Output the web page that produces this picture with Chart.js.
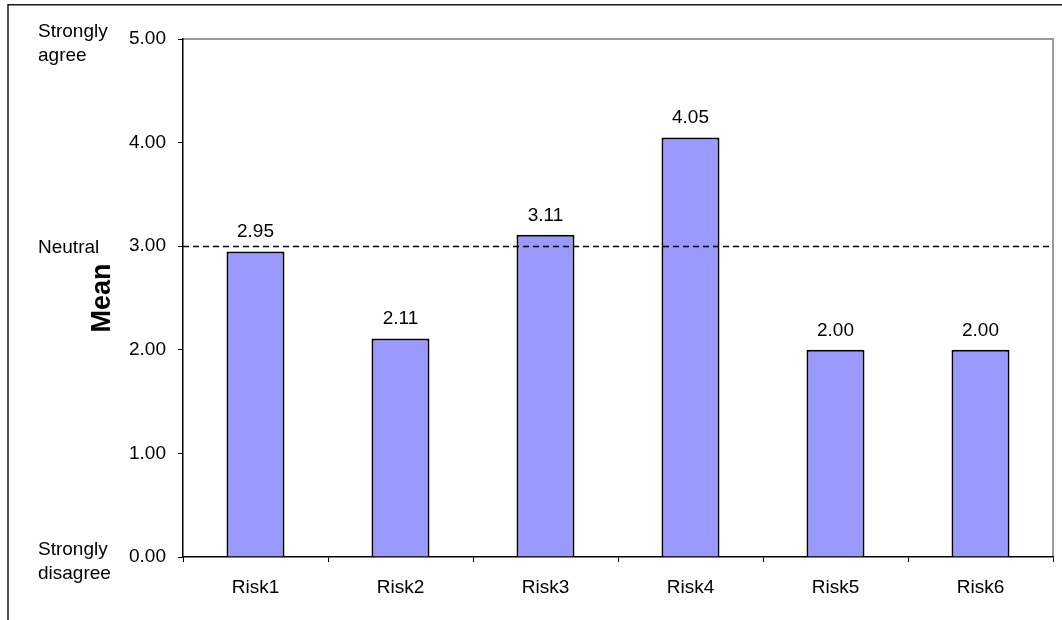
<!DOCTYPE html>
<html>
<head>
<meta charset="utf-8">
<title>Risk means</title>
<script src="https://cdn.jsdelivr.net/npm/chart.js@4/dist/chart.umd.min.js"></script>
<style>
  html, body { margin: 0; padding: 0; background: #fff; }
  #wrap { position: relative; width: 1062px; height: 620px; }
</style>
</head>
<body>
<div id="wrap"><canvas id="chart" width="1062" height="620"></canvas></div>
<script>
// Survey results: mean agreement score per risk item (scale 0–5)
const categories = ['Risk1', 'Risk2', 'Risk3', 'Risk4', 'Risk5', 'Risk6'];
const meanScores = [2.95, 2.11, 3.11, 4.05, 2.00, 2.00];
const yTickValues = [0, 1, 2, 3, 4, 5];
const neutralLevel = 3;
const scaleAnchors = [
  { value: 5, lines: ['Strongly', 'agree'] },
  { value: 3, lines: ['Neutral'] },
  { value: 0, lines: ['Strongly', 'disagree'] }
];

const FONT = "'Liberation Sans', Arial, Helvetica, sans-serif";
Chart.defaults.font.family = FONT;
Chart.defaults.font.size = 19;
Chart.defaults.color = '#000';

// Outer frame and gray plot-area edges on top/right
const framePlugin = {
  id: 'frame',
  beforeDraw(chart) {
    const { ctx, chartArea: a } = chart;
    ctx.save();
    ctx.fillStyle = '#fff';
    ctx.fillRect(0, 0, chart.width, chart.height);
    ctx.strokeStyle = '#1a1a1a';
    ctx.lineWidth = 1.5;
    ctx.beginPath();
    ctx.moveTo(8, chart.height);
    ctx.lineTo(8, 4.75);
    ctx.lineTo(chart.width, 4.75);
    ctx.stroke();
    ctx.strokeStyle = '#9a9a9a';
    ctx.lineWidth = 2;
    ctx.beginPath();
    ctx.moveTo(a.left, a.top);
    ctx.lineTo(a.right, a.top);
    ctx.lineTo(a.right, a.bottom);
    ctx.stroke();
    ctx.restore();
  }
};

// Dashed neutral reference line, value labels and verbal scale anchors
const annotatePlugin = {
  id: 'annotate',
  afterDatasetsDraw(chart) {
    const { ctx, chartArea: a, scales: { y } } = chart;
    ctx.save();
    const yn = Math.round(y.getPixelForValue(neutralLevel)) + 0.5;
    ctx.strokeStyle = '#000';
    ctx.lineWidth = 1.5;
    ctx.setLineDash([6, 4]);
    ctx.beginPath();
    ctx.moveTo(a.left, yn);
    ctx.lineTo(a.right - 2, yn);
    ctx.stroke();
    ctx.setLineDash([]);

    ctx.fillStyle = '#000';
    ctx.font = '19px ' + FONT;
    ctx.textAlign = 'center';
    ctx.textBaseline = 'alphabetic';
    const meta = chart.getDatasetMeta(0);
    meta.data.forEach((bar, i) => {
      ctx.fillText(meanScores[i].toFixed(2), bar.x, bar.y - 14);
    });

    ctx.textAlign = 'left';
    ctx.textBaseline = 'middle';
    scaleAnchors.forEach(anchor => {
      const cy = y.getPixelForValue(anchor.value);
      const n = anchor.lines.length;
      anchor.lines.forEach((line, k) => {
        const off = n === 1 ? 2 : (k === 0 ? -7 : 17);
        ctx.fillText(line, 38, cy + off);
      });
    });
    ctx.restore();
  }
};

new Chart(document.getElementById('chart'), {
  type: 'bar',
  data: {
    labels: categories,
    datasets: [{
      data: meanScores,
      backgroundColor: '#9999ff',
      borderColor: '#000',
      borderWidth: 2,
      borderSkipped: 'start',
      barPercentage: 0.4,
      categoryPercentage: 1
    }]
  },
  options: {
    responsive: false,
    devicePixelRatio: 1,
    animation: false,
    layout: { padding: { left: 86, top: 39, right: 9, bottom: 0 } },
    plugins: { legend: { display: false }, tooltip: { enabled: false } },
    scales: {
      x: {
        afterFit(scale) { scale.height = 63; },
        grid: { display: true, drawOnChartArea: false, drawTicks: true, tickLength: 5, color: '#000', offset: true },
        border: { display: true, color: '#000', width: 1.5 },
        ticks: { padding: 14, color: '#000', font: { size: 19 } }
      },
      y: {
        min: 0,
        max: 5,
        afterFit(scale) { scale.width = 97; },
        afterBuildTicks(scale) { scale.ticks = yTickValues.map(v => ({ value: v })); },
        grid: { display: true, drawOnChartArea: false, drawTicks: true, tickLength: 5, color: '#000' },
        border: { display: true, color: '#000', width: 1.5 },
        ticks: { padding: 12, color: '#000', font: { size: 19 }, callback: v => Number(v).toFixed(2) },
        title: { display: true, text: 'Mean', color: '#000', padding: 0, font: { size: 27, weight: 'bold' } }
      }
    }
  },
  plugins: [framePlugin, annotatePlugin]
});
</script>
</body>
</html>
